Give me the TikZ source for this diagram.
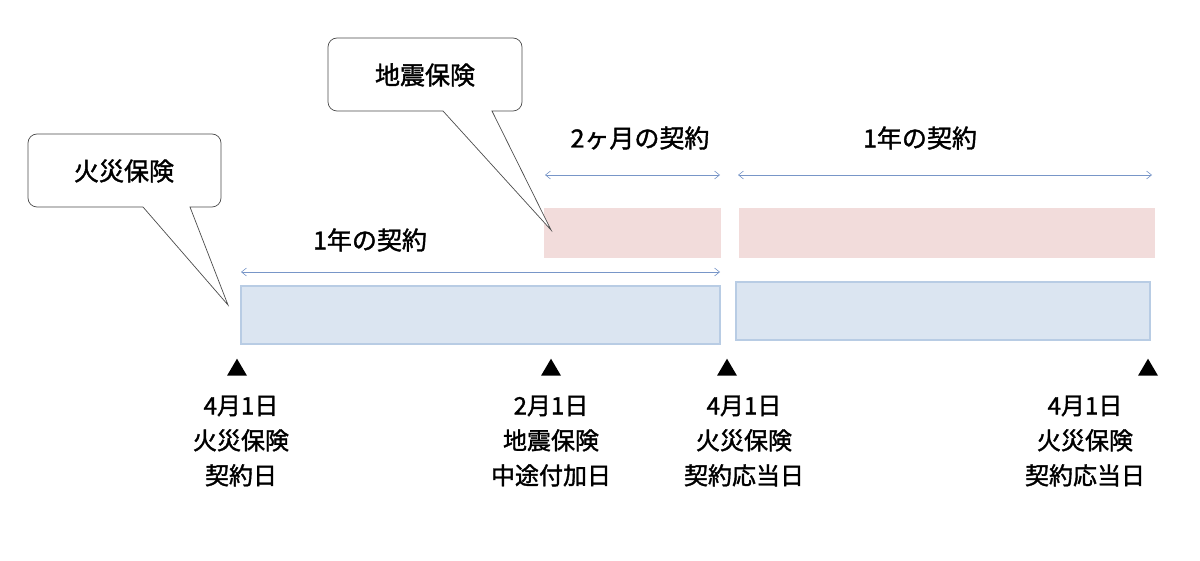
\documentclass[tikz,border=0pt]{standalone}
\usepackage{fontspec}
\setmainfont{Noto Sans CJK JP}[FakeBold=1.5,AutoFakeBold=1.5]
\usetikzlibrary{arrows.meta,shapes.geometric}
\begin{document}
\begin{tikzpicture}[x=1pt,y=-1pt,
 bl/.style={fill={rgb,255:red,219;green,229;blue,241},draw={rgb,255:red,184;green,204;blue,228},line width=1.2},
 pk/.style={fill={rgb,255:red,242;green,220;blue,219},draw=none},
 dim/.style={draw={rgb,255:red,120;green,150;blue,200},line width=0.6,<->,>={Straight Barb[length=5pt,width=8pt]}},
 call/.style={draw=black!70,line width=0.7,fill=white},
 txt/.style={font=\fontsize{25}{28}\selectfont\bfseries},
 lab/.style={font=\fontsize{24}{35}\selectfont\bfseries,align=center,anchor=north},
 tri/.style={fill=black,draw=none,isosceles triangle,shape border rotate=90,inner sep=0pt,isosceles triangle stretches}]
\useasboundingbox (0,0) rectangle (1200,561);
% bars
\draw[bl] (241,286) rectangle (720,344) node[pos=0.5](b1){};
\draw[bl] (736,282) rectangle (1150,340) node[pos=0.5](b2){};
\fill[pk] (544,208) rectangle (721,258) node[pos=0.5](p1){};
\fill[pk] (739,208) rectangle (1155,258) node[pos=0.5](p2){};
% dims
\coordinate (a1) at (241,272); \coordinate (a2) at (720,272);
\coordinate (c1) at (545,175); \coordinate (c2) at (720,175);
\coordinate (d1) at (738,175); \coordinate (d2) at (1152,175);
\draw[dim] (a1) -- (a2);
\draw[dim] (c1) -- (c2);
\draw[dim] (d1) -- (d2);
\node[txt] (l1) at (370,240) {1年の契約};
\node[txt] (l2) at (640,138) {2ヶ月の契約};
\node[txt] (l3) at (920,138) {1年の契約};
% callouts
\coordinate (t1) at (228,305);
\coordinate (t2) at (551,230);
\draw[call] (143,207) -- (t1) -- (190,207) {[rounded corners=9pt] -- (221,207) -- (221,134) -- (28,134) -- (28,207)} -- cycle;
\draw[call] (443,111) -- (t2) -- (492,111) {[rounded corners=9pt] -- (522,111) -- (522,38) -- (328,38) -- (328,111)} -- cycle;
\node[txt] (k1) at (124,171) {火災保険};
\node[txt] (k2) at (425,75) {地震保険};
% triangles
\foreach \x/\n in {237/m1,551/m2,727/m3,1148/m4}{
 \node[tri,minimum height=17pt,minimum width=20pt] (\n) at (\x,370) {};}
\node[lab] (e1) at (241,392) {4月1日\\火災保険\\契約日};
\node[lab] (e2) at (551,392) {2月1日\\地震保険\\中途付加日};
\node[lab] (e3) at (744,392) {4月1日\\火災保険\\契約応当日};
\node[lab] (e4) at (1085,392) {4月1日\\火災保険\\契約応当日};
\end{tikzpicture}
\end{document}
